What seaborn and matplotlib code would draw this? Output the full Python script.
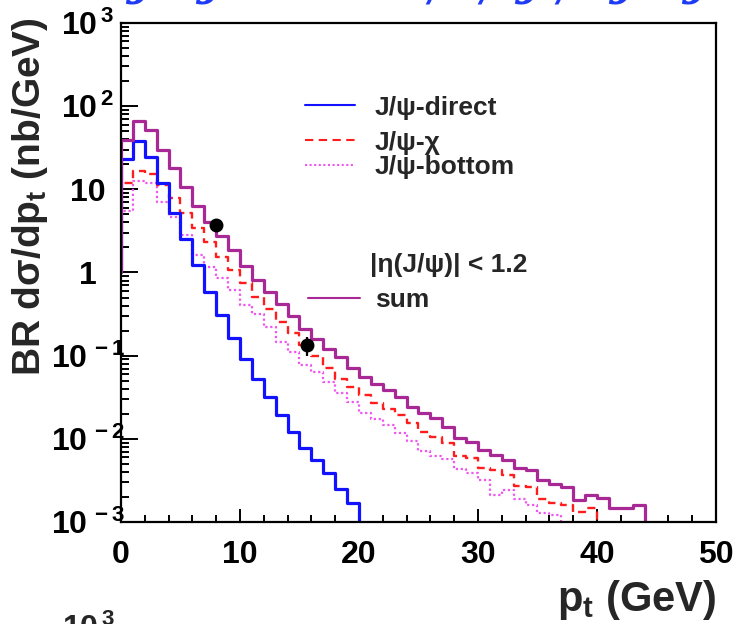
import numpy as np
import pandas as pd
import matplotlib
matplotlib.use("Agg")
import matplotlib.pyplot as plt
import seaborn as sns
from matplotlib.ticker import FixedLocator, FixedFormatter, MultipleLocator, LogLocator, NullFormatter

# 1 GeV wide pt bins starting at 0 GeV
bin_width = 1.0

# J/psi cross sections per bin (nb/GeV)
direct = [23, 38.5, 24.7, 12.0, 5.2, 2.5, 1.23, 0.59, 0.31, 0.162,
          0.090, 0.052, 0.0316, 0.0194, 0.0122, 0.0077, 0.0056, 0.00385, 0.0025, 0.00168,
          0.0006]
chi = [12, 16.6, 15.3, 11.3, 7.8, 5.2, 3.46, 2.35, 1.55, 1.07,
       0.74, 0.51, 0.36, 0.256, 0.186, 0.134, 0.099, 0.072, 0.053, 0.042,
       0.034, 0.027, 0.0226, 0.0194, 0.0154, 0.0122, 0.0104, 0.0088, 0.0062, 0.0059,
       0.0045, 0.0042, 0.0037, 0.0027, 0.0026, 0.00188, 0.0017, 0.0016, 0.00133, 0.00146,
       0.0006]
bottom = [5.5, 12.5, 12, 7, 4.6, 2.8, 1.6, 1.15, 0.85, 0.62,
          0.41, 0.32, 0.22, 0.147, 0.112, 0.077, 0.064, 0.0487, 0.0358, 0.028,
          0.0203, 0.0172, 0.0148, 0.0117, 0.0095, 0.0072, 0.0062, 0.0057, 0.0043, 0.0039,
          0.0032, 0.0021, 0.0024, 0.0019, 0.0016, 0.00128, 0.0012, 0.0005]
total = [39, 67, 52, 30, 17.9, 10.6, 6.3, 4.1, 2.75, 1.87,
         1.21, 0.81, 0.58, 0.42, 0.30, 0.21, 0.16, 0.12, 0.095, 0.072,
         0.056, 0.045, 0.0386, 0.0321, 0.0244, 0.0203, 0.0177, 0.0140, 0.0101, 0.0092,
         0.0073, 0.0064, 0.0056, 0.0044, 0.0042, 0.0032, 0.0029, 0.00266, 0.00184, 0.00211,
         0.00193, 0.00146, 0.00146, 0.0016, 0.0008]

# measured points
meas_pt = [8.0, 15.6]
meas_val = [3.7, 0.134]
meas_err = [0.15, 0.035]

x_ticks = [0, 10, 20, 30, 40, 50]
x_ticklabels = ["0", "10", "20", "30", "40", "50"]
y_ticks = [1e-3, 1e-2, 1e-1, 1, 10, 100, 1000]
y_ticklabels = [r"$10^{\,-3}$", r"$10^{\,-2}$", r"$10^{\,-1}$", "1", "10",
                r"$10^{\,2}$", r"$10^{\,3}$"]

sns.set_theme(style="ticks")
plt.rcParams.update({
    "font.family": ["Liberation Sans", "DejaVu Sans"],
    "font.weight": "bold",
    "mathtext.fontset": "custom",
    "mathtext.rm": "Liberation Sans:bold",
    "mathtext.bf": "Liberation Sans:bold",
    "mathtext.it": "Liberation Sans:bold",
    "mathtext.default": "rm",
})

BLUE = "#1212ff"
RED = "#ff1c1c"
PINK = "#f055f0"
SUM = "#a82896"


def step_frame(values):
    edges = np.arange(len(values) + 1) * bin_width
    x = np.concatenate([[edges[0]], edges])
    y = np.concatenate([[1.0], values, [values[-1]]])
    return pd.DataFrame({"pt": x, "val": y})


fig = plt.figure(figsize=(7.35, 6.24), dpi=100)
ax = fig.add_axes([0.1646, 0.1635, 0.8095, 0.7997])

common = dict(x="pt", y="val", ax=ax, drawstyle="steps-post",
              estimator=None, sort=False, legend=False)
sns.lineplot(data=step_frame(bottom), color=PINK, lw=1.6,
             linestyle=(0, (1.0, 1.2)), **common)
sns.lineplot(data=step_frame(chi), color=RED, lw=1.7,
             linestyle=(0, (3.4, 2.2)), **common)
sns.lineplot(data=step_frame(direct), color=BLUE, lw=2.3, **common)
sns.lineplot(data=step_frame(total), color=SUM, lw=2.3, **common)

ax.errorbar(meas_pt, meas_val, yerr=meas_err, fmt="o", color="black",
            ms=9, elinewidth=1.6, capsize=0, zorder=5)

ax.set_yscale("log")
ax.set_xlim(0, 50)
ax.set_ylim(1e-3, 1e3)
ax.set_xlabel("")
ax.set_ylabel("")

ax.xaxis.set_major_locator(FixedLocator(x_ticks))
ax.xaxis.set_major_formatter(FixedFormatter(x_ticklabels))
ax.xaxis.set_minor_locator(MultipleLocator(2))
ax.yaxis.set_major_locator(FixedLocator(y_ticks))
ax.yaxis.set_major_formatter(FixedFormatter(y_ticklabels))
ax.yaxis.set_minor_locator(LogLocator(base=10, subs=np.arange(2, 10), numticks=20))
ax.yaxis.set_minor_formatter(NullFormatter())

ax.tick_params(axis="both", which="both", direction="in", top=False, right=False,
               colors="black", width=1.4)
ax.tick_params(axis="x", which="major", length=9.5, pad=13, labelsize=23)
ax.tick_params(axis="x", which="minor", length=5)
ax.tick_params(axis="y", which="major", length=12, pad=24, labelsize=23)
ax.tick_params(axis="y", which="minor", length=6)
for lab in ax.get_yticklabels():
    lab.set_horizontalalignment("center")
for s in ax.spines.values():
    s.set_linewidth(1.6)
    s.set_color("black")

# legend drawn in axes fraction coordinates
tr = ax.transAxes
ax.plot([0.309, 0.393], [0.836, 0.836], color=BLUE, lw=1.5, transform=tr)
ax.plot([0.309, 0.393], [0.766, 0.766], color=RED, lw=1.5,
        linestyle=(0, (4, 2.6)), transform=tr)
ax.plot([0.309, 0.393], [0.716, 0.716], color=PINK, lw=1.5,
        linestyle=(0, (1, 1.2)), transform=tr)
ax.plot([0.314, 0.402], [0.449, 0.449], color=SUM, lw=1.5, transform=tr)
lab_kw = dict(transform=tr, fontsize=19, fontweight="bold", va="baseline", ha="left")
ax.text(0.427, 0.815, "J/ψ-direct", **lab_kw)
ax.text(0.427, 0.7455, "J/ψ-χ", **lab_kw)
ax.text(0.427, 0.697, "J/ψ-bottom", **lab_kw)
ax.text(0.418, 0.500, "|η(J/ψ)| < 1.2", **lab_kw)
ax.text(0.427, 0.4315, "sum", **lab_kw)

fig.text(30 / 735, 1 - 17 / 624, r"BR dσ/dp$_{t}$ (nb/GeV)", rotation=90,
         ha="center", va="top", fontsize=28, fontweight="bold")
fig.text(716 / 735, 1 - 611 / 624, r"p$_{t}$ (GeV)", ha="right", va="baseline",
         fontsize=30, fontweight="bold")

# title of the panel above and axis label of the panel below, cut by the frame
title_chars = ["J", "J", "/", "/", "J", "/", "J", "J"]
title_x = [125, 195, 428, 480, 514, 557, 608, 681]
for ch, xp in zip(title_chars, title_x):
    fig.text(xp / 735, 1 - 3 / 624, ch, ha="left", va="baseline", fontsize=40,
             color="#1e3cf5", family=["Liberation Serif", "DejaVu Serif"],
             fontstyle="italic", fontweight="bold")
fig.text(88 / 735, 1 - 614 / 624, r"$10^{\,3}$", ha="center", va="top", fontsize=23)

fig.savefig("out.png", dpi=100)
